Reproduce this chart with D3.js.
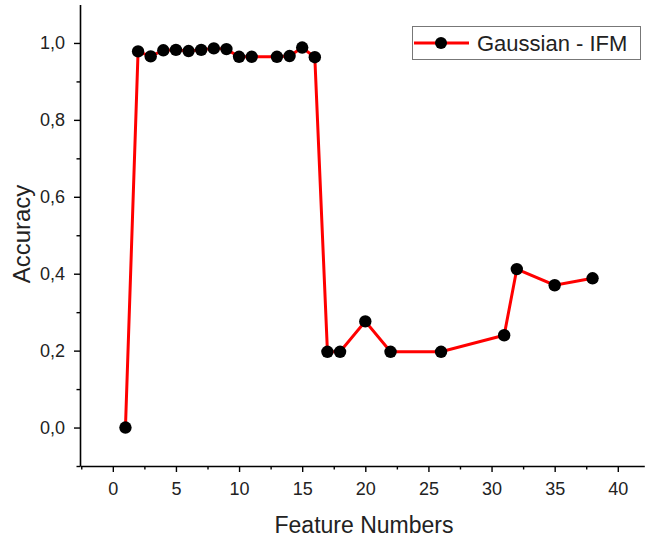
<!DOCTYPE html>
<html>
<head>
<meta charset="utf-8">
<script src="https://cdn.jsdelivr.net/npm/d3@7"></script>
<style>
  body { margin: 0; background: #fff; }
  svg { display: block; font-family: Arial, "Liberation Sans", sans-serif; }
</style>
</head>
<body>
<svg id="chart" width="645" height="542"></svg>
<script>
// data
var features = [1, 2, 3, 4, 5, 6, 7, 8, 9, 10, 11, 13, 14, 15, 16, 17, 18, 20, 22, 26, 31, 32, 35, 38];
var accuracy = [0.0, 0.978, 0.965, 0.981, 0.982, 0.979, 0.982, 0.986, 0.984, 0.964, 0.964, 0.964, 0.966, 0.988, 0.963,
                0.197, 0.197, 0.276, 0.197, 0.197, 0.240, 0.412, 0.370, 0.388];
var xTicks = [0, 5, 10, 15, 20, 25, 30, 35, 40];
var yTicks = [0, 0.2, 0.4, 0.6, 0.8, 1.0];
var seriesName = 'Gaussian - IFM';

var points = features.map(function(f, i){ return {f: f, a: accuracy[i]}; });

var svg = d3.select('#chart');

var x = d3.scaleLinear().domain([-2.6, 42.1]).range([80, 644.3]);
var y = d3.scaleLinear().domain([-0.1, 1.1]).range([466, 4.5]);

var fmt = function(d){ return d3.format('.1f')(d).replace('.', ','); };

// minor ticks
var xMinor = d3.range(-2.5, 42, 2.5).filter(function(d){ return d % 5 !== 0; });
var yMinor = [-0.1, 0.1, 0.3, 0.5, 0.7, 0.9];

var xAxis = svg.append('g')
  .attr('transform', 'translate(0,466)')
  .call(d3.axisBottom(x).tickValues(xTicks).tickSize(6).tickPadding(10).tickSizeOuter(0));

svg.append('g')
  .attr('transform', 'translate(0,466)')
  .call(d3.axisBottom(x).tickValues(xMinor).tickSize(3.5).tickFormat('').tickSizeOuter(0))
  .select('.domain').remove();

var yAxis = svg.append('g')
  .attr('transform', 'translate(80,0)')
  .call(d3.axisLeft(y).tickValues(yTicks).tickSize(6).tickPadding(9).tickFormat(fmt).tickSizeOuter(0));

svg.append('g')
  .attr('transform', 'translate(80,0)')
  .call(d3.axisLeft(y).tickValues(yMinor).tickSize(3.5).tickFormat('').tickSizeOuter(0))
  .select('.domain').remove();

svg.selectAll('.domain').attr('stroke', '#000').attr('stroke-width', 1.6);
svg.selectAll('.tick line').attr('stroke', '#000').attr('stroke-width', 1.4);
svg.selectAll('.tick text').attr('font-size', '18px').attr('fill', '#222')
  .attr('font-family', 'Arial, "Liberation Sans", sans-serif');

// axis titles
svg.append('text')
  .attr('x', 364).attr('y', 533)
  .attr('text-anchor', 'middle')
  .attr('font-size', '23px')
  .attr('fill', '#222')
  .text('Feature Numbers');

svg.append('text')
  .attr('transform', 'translate(30,234) rotate(-90)')
  .attr('text-anchor', 'middle')
  .attr('font-size', '24px')
  .attr('fill', '#222')
  .text('Accuracy');

// series
var line = d3.line().x(function(d){ return x(d.f); }).y(function(d){ return y(d.a); });

svg.append('path')
  .datum(points)
  .attr('d', line)
  .attr('fill', 'none')
  .attr('stroke', '#ff0000')
  .attr('stroke-width', 3);

svg.selectAll('.dot')
  .data(points)
  .enter()
  .append('circle')
  .attr('class', 'dot')
  .attr('cx', function(d){ return x(d.f); })
  .attr('cy', function(d){ return y(d.a); })
  .attr('r', 6.2)
  .attr('fill', '#000');

// legend
var legend = svg.append('g');
legend.append('rect')
  .attr('x', 412.5).attr('y', 26.5)
  .attr('width', 228).attr('height', 33)
  .attr('fill', '#fff')
  .attr('stroke', '#777')
  .attr('stroke-width', 1);
legend.append('line')
  .attr('x1', 414).attr('x2', 469).attr('y1', 43).attr('y2', 43)
  .attr('stroke', '#ff0000').attr('stroke-width', 3);
legend.append('circle')
  .attr('cx', 441).attr('cy', 43).attr('r', 6)
  .attr('fill', '#000');
legend.append('text')
  .attr('x', 477).attr('y', 51)
  .attr('font-size', '22px')
  .attr('fill', '#222')
  .text(seriesName);
</script>
</body>
</html>
